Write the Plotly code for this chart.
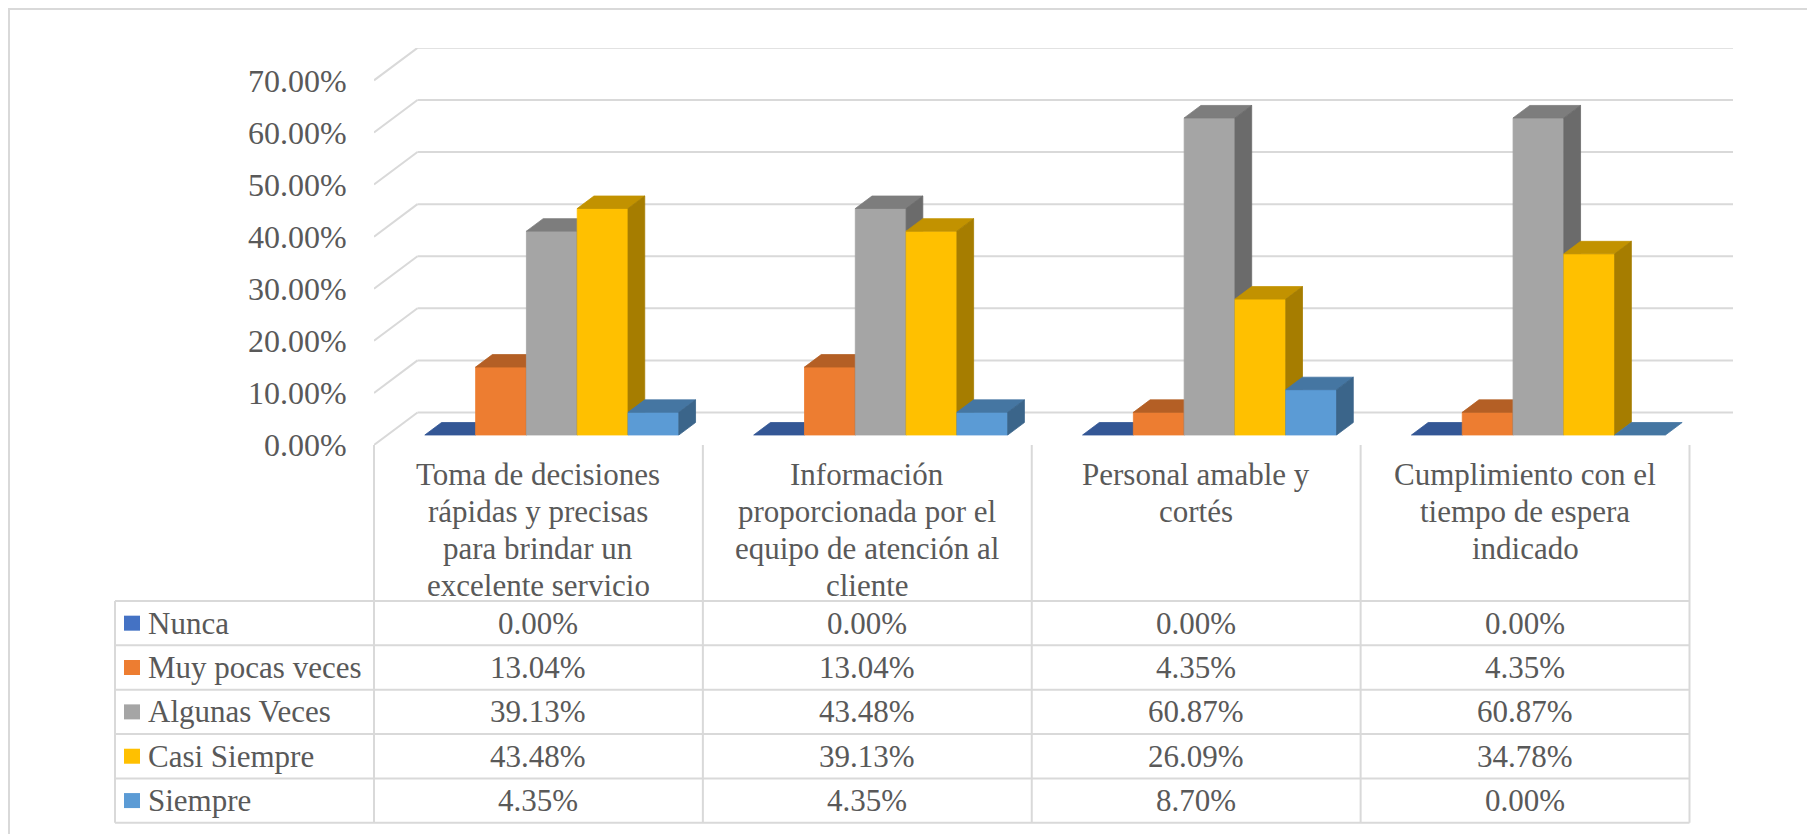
import plotly.graph_objects as go

# ---------------- data ----------------
categories = [
    "Toma de decisiones\nrápidas y precisas\npara brindar un\nexcelente servicio",
    "Información\nproporcionada por el\nequipo de atención al\ncliente",
    "Personal amable y\ncortés",
    "Cumplimiento con el\ntiempo de espera\nindicado",
]
series_names = ["Nunca", "Muy pocas veces", "Algunas Veces", "Casi Siempre", "Siempre"]
nunca = [0.00, 0.00, 0.00, 0.00]
muy_pocas_veces = [13.04, 13.04, 4.35, 4.35]
algunas_veces = [39.13, 43.48, 60.87, 60.87]
casi_siempre = [43.48, 39.13, 26.09, 34.78]
siempre = [4.35, 4.35, 8.70, 0.00]
series_values = [nunca, muy_pocas_veces, algunas_veces, casi_siempre, siempre]
y_ticks = [0, 10, 20, 30, 40, 50, 60, 70]
y_tick_labels = [f"{v:.2f}%" for v in y_ticks]

# ---------------- style ----------------
colors = ["#4472C4", "#ED7D31", "#A5A5A5", "#FFC000", "#5B9BD5"]
TEXT = "#595959"
GRID = "#d9d9d9"
FONT = "Liberation Serif"

W, H = 1807, 834
L, R, T, B = 374, 74, 48, 389
PW, PH = W - L - R, H - T - B
PXU = 328.875             # px per category
PYU = 5.209               # px per percent
XMAX = PW / PXU
YMAX = PH / PYU
DX = 43.5 / PXU           # floor depth
DY = 32.5 / PYU
T0, T1 = 0.3077, 0.692    # bar depth (fraction of floor)
BW = 50.8 / PXU           # bar width


def shade(hexc, f):
    h = hexc.lstrip("#")
    r, g, b = (int(h[i:i + 2], 16) for i in (0, 2, 4))
    return "rgb(%d,%d,%d)" % (round(r * f), round(g * f), round(b * f))


def px_x(p):
    return (p - L) / PW


def px_y(p):
    return (H - B - p) / PH


fig = go.Figure()

# ---------------- 3D bars ----------------
nser = len(series_values)
sx0, sy0 = T0 * DX, T0 * DY
ddx, ddy = (T1 - T0) * DX, (T1 - T0) * DY
for j, (vals, col) in enumerate(zip(series_values, colors)):
    fx, fy, tx, ty, sx, sy = [], [], [], [], [], []
    for i, v in enumerate(vals):
        xl = i + 0.5 - nser / 2 * BW + j * BW + sx0
        xr = xl + BW
        y0 = sy0
        y1 = sy0 + v
        if v > 0:
            fx += [xl, xr, xr, xl, xl, None]
            fy += [y0, y0, y1, y1, y0, None]
            sx += [xr, xr, xr + ddx, xr + ddx, xr, None]
            sy += [y0, y1, y1 + ddy, y0 + ddy, y0, None]
        tx += [xl, xr, xr + ddx, xl + ddx, xl, None]
        ty += [y1, y1, y1 + ddy, y1 + ddy, y1, None]
    for xs, ys, c in ((fx, fy, col), (tx, ty, shade(col, 0.76)), (sx, sy, shade(col, 0.65))):
        if not xs:
            continue
        fig.add_trace(go.Scatter(
            x=xs, y=ys, mode="lines", fill="toself", fillcolor=c,
            line=dict(color=c, width=0.8), hoverinfo="skip", showlegend=False,
        ))

shapes = []
# ---------------- gridlines (back wall + floor diagonals) ----------------
for v in y_ticks:
    shapes.append(dict(type="line", xref="x", yref="y", x0=DX, x1=len(categories) + DX,
                       y0=v + DY, y1=v + DY, line=dict(color=GRID, width=2), layer="below"))
    shapes.append(dict(type="line", xref="x", yref="y", x0=0, x1=DX,
                       y0=v, y1=v + DY, line=dict(color=GRID, width=2), layer="below"))

# ---------------- outer border ----------------
shapes.append(dict(type="rect", xref="paper", yref="paper",
                   x0=px_x(9), x1=px_x(W + 10), y0=px_y(H + 10), y1=px_y(9),
                   line=dict(color=GRID, width=2), layer="below"))

# ---------------- data table ----------------
TAB_L = 115
HEAD_T = 445
HEAD_B = 601
ROW_H = 44.35
nrows = len(series_names)
TAB_B = HEAD_B + nrows * ROW_H
col_edges = [L + k * PXU for k in range(len(categories) + 1)]
# horizontal lines
for r in range(nrows + 1):
    yy = HEAD_B + r * ROW_H
    shapes.append(dict(type="line", xref="paper", yref="paper",
                       x0=px_x(TAB_L), x1=px_x(col_edges[-1]), y0=px_y(yy), y1=px_y(yy),
                       line=dict(color=GRID, width=2)))
# vertical lines
for k, xe in enumerate(col_edges):
    shapes.append(dict(type="line", xref="paper", yref="paper",
                       x0=px_x(xe), x1=px_x(xe), y0=px_y(HEAD_T), y1=px_y(TAB_B),
                       line=dict(color=GRID, width=2)))
shapes.append(dict(type="line", xref="paper", yref="paper",
                   x0=px_x(TAB_L), x1=px_x(TAB_L), y0=px_y(HEAD_B), y1=px_y(TAB_B),
                   line=dict(color=GRID, width=2)))

annotations = []
TFS = 31
# header (category) labels, one annotation per line
LINE_STEP = 37.2
for i, cat in enumerate(categories):
    for n, line in enumerate(cat.split("\n")):
        annotations.append(dict(
            x=i + 0.5, xref="x", y=px_y(474 + n * LINE_STEP), yref="paper",
            text=line, showarrow=False, xanchor="center", yanchor="middle",
            font=dict(family=FONT, size=TFS, color=TEXT)))
# rows
for r, (name, vals, col) in enumerate(zip(series_names, series_values, colors)):
    yc = HEAD_B + (r + 0.5) * ROW_H
    shapes.append(dict(type="rect", xref="paper", yref="paper",
                       x0=px_x(124), x1=px_x(140), y0=px_y(yc + 7.5), y1=px_y(yc - 7.5),
                       fillcolor=col, line=dict(width=0)))
    annotations.append(dict(
        x=px_x(146), xref="paper", y=px_y(yc), yref="paper", text=name,
        showarrow=False, xanchor="left", yanchor="middle",
        font=dict(family=FONT, size=TFS, color=TEXT)))
    for i, v in enumerate(vals):
        annotations.append(dict(
            x=i + 0.5, xref="x", y=px_y(yc), yref="paper", text=f"{v:.2f}%",
            showarrow=False, xanchor="center", yanchor="middle",
            font=dict(family=FONT, size=TFS, color=TEXT)))

fig.update_layout(
    width=W, height=H,
    margin=dict(l=L, r=R, t=T, b=B, pad=0),
    paper_bgcolor="white", plot_bgcolor="white",
    showlegend=False,
    shapes=shapes, annotations=annotations,
    xaxis=dict(range=[0, XMAX], visible=False, fixedrange=True),
    yaxis=dict(range=[0, YMAX], tickvals=y_ticks, ticktext=y_tick_labels,
               showgrid=False, zeroline=False, showline=False,
               ticks="outside", ticklen=20, tickcolor="rgba(0,0,0,0)",
               tickfont=dict(family=FONT, size=32, color=TEXT), fixedrange=True),
)

fig.write_html("out.html")
